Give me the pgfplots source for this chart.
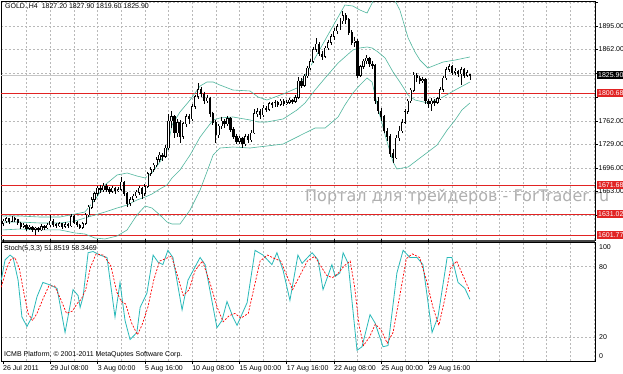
\documentclass[border=0pt]{standalone}
\usepackage{pgfplots}
\pgfplotsset{compat=1.18}
\usepackage{pgfplotstable}
\usepackage{fontspec}
\setmainfont{Liberation Sans}
\newfontfamily\wmfont{DejaVu Sans}
\definecolor{band}{RGB}{80,182,158}
\definecolor{stm}{RGB}{40,185,185}
\definecolor{lvl}{RGB}{225,35,35}
\definecolor{gridc}{RGB}{185,185,185}
\newcommand{\sm}{\fontsize{7}{8.4}\selectfont}

\pgfplotstableread{
i o h l c
0 1618 1624 1615 1622
1 1622 1627 1619 1625
2 1625 1626 1618 1621
3 1621 1629 1620 1626
4 1626 1628 1621 1624
5 1624 1625 1616 1619
6 1619 1621 1611 1614
7 1614 1619 1612 1616
8 1616 1617 1608 1611
9 1611 1616 1609 1613
10 1613 1615 1606 1610
11 1610 1614 1602 1612
12 1612 1613 1606 1609
13 1609 1617 1607 1614
14 1614 1616 1609 1612
15 1612 1619 1610 1616
16 1616 1630 1614 1622
17 1622 1624 1614 1617
18 1617 1619 1612 1615
19 1615 1620 1613 1618
20 1618 1619 1611 1614
21 1614 1620 1612 1617
22 1617 1619 1612 1615
23 1615 1632 1614 1628
24 1628 1630 1617 1620
25 1620 1622 1613 1616
26 1616 1618 1610 1613
27 1613 1621 1611 1618
28 1618 1633 1616 1630
29 1630 1644 1628 1641
30 1641 1655 1639 1652
31 1652 1663 1649 1660
32 1660 1671 1657 1668
33 1668 1672 1661 1665
34 1665 1675 1663 1671
35 1671 1673 1662 1666
36 1666 1669 1659 1663
37 1663 1671 1661 1668
38 1668 1670 1660 1664
39 1664 1669 1662 1666
40 1666 1684 1664 1676
41 1676 1678 1657 1660
42 1660 1662 1641 1646
43 1646 1655 1643 1652
44 1652 1660 1648 1657
45 1657 1665 1654 1662
46 1662 1671 1658 1668
47 1668 1670 1652 1660
48 1660 1673 1657 1670
49 1670 1691 1668 1688
50 1688 1697 1685 1694
51 1694 1703 1691 1700
52 1700 1711 1697 1708
53 1708 1718 1705 1714
54 1714 1717 1706 1712
55 1712 1728 1710 1724
56 1724 1772 1721 1762
57 1762 1776 1752 1768
58 1768 1770 1738 1745
59 1745 1765 1740 1760
60 1760 1763 1731 1740
61 1740 1761 1736 1758
62 1758 1772 1754 1768
63 1768 1771 1758 1765
64 1765 1786 1762 1782
65 1782 1799 1779 1796
66 1796 1815 1793 1806
67 1806 1810 1795 1800
68 1800 1803 1785 1790
69 1790 1799 1787 1794
70 1794 1796 1768 1772
71 1772 1775 1756 1760
72 1760 1763 1731 1742
73 1742 1758 1738 1755
74 1755 1768 1751 1762
75 1762 1765 1752 1758
76 1758 1769 1755 1765
77 1765 1767 1746 1750
78 1750 1753 1736 1740
79 1740 1744 1729 1733
80 1733 1741 1730 1738
81 1738 1740 1724 1730
82 1730 1744 1727 1740
83 1740 1743 1731 1735
84 1735 1749 1732 1745
85 1745 1778 1743 1772
86 1772 1780 1768 1775
87 1775 1778 1765 1770
88 1770 1784 1767 1780
89 1780 1783 1774 1778
90 1778 1789 1776 1786
91 1786 1788 1780 1784
92 1784 1791 1782 1788
93 1788 1790 1781 1785
94 1785 1793 1783 1790
95 1790 1792 1783 1786
96 1786 1791 1784 1788
97 1788 1794 1786 1791
98 1791 1793 1785 1789
99 1789 1798 1787 1795
100 1795 1823 1793 1818
101 1818 1822 1808 1812
102 1812 1828 1810 1825
103 1825 1839 1822 1836
104 1836 1849 1833 1845
105 1845 1866 1843 1862
106 1862 1878 1858 1870
107 1870 1872 1853 1856
108 1856 1860 1848 1852
109 1852 1867 1850 1864
110 1864 1876 1861 1872
111 1872 1884 1868 1880
112 1880 1892 1876 1888
113 1888 1898 1884 1894
114 1894 1906 1890 1902
115 1902 1916 1898 1910
116 1910 1913 1898 1904
117 1904 1906 1883 1886
118 1886 1889 1868 1872
119 1872 1880 1866 1874
120 1874 1877 1822 1826
121 1826 1841 1823 1838
122 1838 1849 1835 1846
123 1846 1854 1842 1850
124 1850 1852 1838 1842
125 1842 1846 1835 1840
126 1840 1842 1786 1790
127 1790 1795 1772 1776
128 1776 1780 1762 1768
129 1768 1770 1745 1748
130 1748 1752 1734 1740
131 1740 1743 1712 1716
132 1716 1722 1703 1710
133 1710 1742 1708 1738
134 1738 1755 1734 1748
135 1748 1764 1745 1760
136 1760 1779 1757 1775
137 1775 1793 1771 1790
138 1790 1808 1787 1805
139 1805 1830 1803 1826
140 1826 1829 1817 1822
141 1822 1825 1814 1818
142 1818 1824 1815 1820
143 1820 1822 1785 1790
144 1790 1792 1780 1786
145 1786 1794 1776 1790
146 1790 1793 1783 1788
147 1788 1796 1785 1793
148 1793 1809 1791 1806
149 1806 1825 1803 1822
150 1822 1838 1820 1834
151 1834 1842 1830 1838
152 1838 1840 1826 1830
153 1830 1836 1827 1832
154 1832 1834 1823 1828
155 1828 1838 1813 1834
156 1834 1836 1822 1826
157 1826 1833 1823 1830
158 1827.2 1827.9 1819.6 1825.9
}\candles

\begin{document}
\begin{tikzpicture}[x=1pt,y=1pt]
\useasboundingbox (0,0) rectangle (623,373);
\begin{scope}
\clip (0,0) rectangle (623,373);
\fill[white] (0,0) rectangle (623,373);
\node[anchor=west, text=gray!62, font=\wmfont\fontsize{16}{18}\selectfont, inner sep=0pt] at (305,176) {Портал для трейдеров - ForTrader.ru};

% ---------------- price panel ----------------
\begin{axis}[
  at={(1pt,133pt)}, anchor=south west, scale only axis,
  width=594pt, height=239pt,
  xmin=-0.68, xmax=200.34, ymin=1595.08, ymax=1930.04,
  axis line style={black, line width=0.6pt},
  xtick={8,16,...,200}, xticklabels={}, xtick style={draw=none},
  ytick={1630,1663,1696,1729,1762,1795.5,1829,1862,1895,1928},
  yticklabels={,1663.00,1696.00,1729.00,1762.00,,,1862.00,1895.00,},
  ytick pos=right, yticklabel pos=right, tick align=outside,
  major tick length=3pt,
  ytick style={black, line width=0.5pt},
  yticklabel style={font=\sm, anchor=west, inner sep=0pt, xshift=0.5pt},
  grid=major,
  major grid style={gridc, dash pattern=on 2pt off 2pt, line width=0.5pt},
]
\addplot[gray!45, line width=0.6pt, forget plot] coordinates {(-0.68,1825.9) (200.34,1825.9)};
\addplot[lvl, line width=0.8pt, forget plot] coordinates {(-0.68,1800.68) (200.34,1800.68)};
\addplot[lvl, line width=0.8pt, forget plot] coordinates {(-0.68,1671.68) (200.34,1671.68)};
\addplot[lvl, line width=0.8pt, forget plot] coordinates {(-0.68,1631.02) (200.34,1631.02)};
\addplot[lvl, line width=0.8pt, forget plot] coordinates {(-0.68,1601.77) (200.34,1601.77)};

% Bollinger bands: upper, middle, lower
\addplot[band, line width=0.6pt, forget plot] coordinates {
(0,1628.7) (5.75,1628.7) (12.5,1627.3) (19.3,1627.3) (24.4,1631.5) (27.7,1634.3)
(31.1,1651.1) (34.5,1672.2) (38.6,1686.2) (42.0,1689.0) (45.3,1684.8) (48.1,1682.0)
(50.4,1689.0) (53.1,1704.4) (55.5,1721.2) (57.2,1756.3) (59.9,1774.5) (63.3,1791.3)
(66.7,1810.9) (69.0,1816.5) (71.1,1816.5) (73.4,1812.3) (77.8,1805.3) (83.6,1803.9)
(86.3,1795.5) (89.3,1791.3) (94.8,1799.7) (99.5,1808.1) (102.2,1824.9) (105.6,1850.2)
(109.0,1875.4) (113.4,1907.6) (115.7,1924.4) (118.4,1923.0) (120.8,1917.4) (123.2,1913.2)
(124.9,1927.2) (126.9,1945.5) (129.3,1952.5) (132.0,1935.6) (134.3,1917.4) (137.1,1878.2)
(139.4,1858.6) (141.1,1847.3) (143.8,1836.1) (148.9,1844.5) (153.0,1847.3) (158.0,1851.6)};
\addplot[band, line width=0.6pt, forget plot] coordinates {
(0,1620.3) (5.75,1620.3) (12.5,1618.9) (19.3,1618.9) (24.4,1621.7) (27.7,1625.9)
(31.1,1630.1) (34.5,1634.3) (38.6,1639.9) (42.0,1644.1) (45.3,1651.1) (48.1,1655.3)
(50.4,1659.5) (53.1,1666.6) (55.5,1672.2) (57.2,1682.0) (59.9,1693.2) (63.3,1714.2)
(66.7,1739.4) (69.0,1752.0) (71.1,1763.3) (73.4,1766.1) (77.8,1767.5) (83.6,1763.3)
(86.3,1760.5) (89.3,1760.5) (94.8,1764.7) (99.5,1777.3) (102.2,1787.1) (105.6,1805.3)
(109.0,1822.1) (113.4,1843.1) (115.7,1851.6) (118.4,1861.4) (120.8,1864.2) (123.2,1865.6)
(124.9,1864.2) (126.9,1858.6) (129.3,1850.2) (132.0,1830.5) (134.3,1816.5) (137.1,1798.3)
(139.4,1791.3) (143.8,1787.1) (148.9,1795.5) (153.0,1805.3) (158.0,1816.5)};
\addplot[band, line width=0.6pt, forget plot] coordinates {
(0,1609.2) (5.75,1610.5) (12.5,1609.2) (19.3,1609.2) (24.4,1604.9) (27.7,1603.5)
(31.1,1597.9) (34.5,1596.5) (38.6,1600.7) (42.0,1609.2) (45.3,1630.1) (48.1,1642.7)
(50.4,1639.9) (53.1,1630.1) (55.5,1620.3) (57.2,1617.5) (59.9,1617.5) (63.3,1637.1)
(66.7,1665.2) (69.0,1690.4) (71.1,1714.2) (73.4,1724.0) (77.8,1725.4) (83.6,1724.0)
(86.3,1725.4) (89.3,1726.8) (94.8,1729.6) (99.5,1739.4) (102.2,1745.0) (105.6,1752.0)
(109.0,1752.0) (113.4,1767.5) (115.7,1784.3) (118.4,1801.1) (120.8,1812.3) (123.2,1822.1)
(124.9,1816.5) (126.9,1780.0) (129.3,1742.2) (132.0,1704.4) (133.3,1694.6) (137.1,1697.4)
(141.1,1710.0) (143.8,1718.4) (146.9,1728.2) (150.3,1749.2) (153.0,1763.3) (155.3,1777.3)
(158.0,1787.1)};

% candles: wicks
\addplot[draw=none, mark=none, forget plot,
  error bars/.cd, y dir=minus, y explicit, error mark=none,
  error bar style={draw=black, line width=0.7pt, solid}]
  table[x=i, y=h, y error minus expr={\thisrow{h}-\thisrow{l}}] {\candles};
% bearish bodies
\addplot[draw=none, mark=none, forget plot,
  restrict expr to domain={\thisrow{c}-\thisrow{o}}{-10000:-0.0001},
  error bars/.cd, y dir=minus, y explicit, error mark=none,
  error bar style={draw=black, line width=2.3pt, solid}]
  table[x=i, y expr={max(\thisrow{o},\thisrow{c})+0.4},
        y error minus expr={abs(\thisrow{o}-\thisrow{c})+0.8}] {\candles};
% bullish bodies (hollow)
\addplot[draw=none, mark=none, forget plot,
  restrict expr to domain={\thisrow{c}-\thisrow{o}}{0:10000},
  error bars/.cd, y dir=minus, y explicit, error mark=none,
  error bar style={draw=black, line width=2.3pt, solid}]
  table[x=i, y expr={max(\thisrow{o},\thisrow{c})+0.4},
        y error minus expr={abs(\thisrow{o}-\thisrow{c})+0.8}] {\candles};
\addplot[draw=none, mark=none, forget plot,
  restrict expr to domain={\thisrow{c}-\thisrow{o}}{2:10000},
  error bars/.cd, y dir=minus, y explicit, error mark=none,
  error bar style={draw=white, line width=0.8pt, solid}]
  table[x=i, y expr={max(\thisrow{o},\thisrow{c})-0.3},
        y error minus expr={abs(\thisrow{o}-\thisrow{c})-0.6}] {\candles};

\coordinate (cur) at (axis cs:200.34,1825.9);
\coordinate (l1) at (axis cs:200.34,1800.68);
\coordinate (l2) at (axis cs:200.34,1671.68);
\coordinate (l3) at (axis cs:200.34,1631.02);
\coordinate (l4) at (axis cs:200.34,1601.77);
\end{axis}

% separator
\fill[gray!55!black] (1,131) rectangle (595,133.3);

% ---------------- stochastic panel ----------------
\begin{axis}[
  at={(1pt,12pt)}, anchor=south west, scale only axis,
  width=594pt, height=119pt,
  xmin=-0.68, xmax=200.34, ymin=0, ymax=100,
  axis line style={black, line width=0.6pt},
  xtick={8,16,...,200}, xticklabels={}, xtick style={draw=none},
  ytick={20,80}, yticklabels={}, ytick style={draw=none},
  grid=major,
  major grid style={gridc, dash pattern=on 2pt off 2pt, line width=0.5pt},
  extra x ticks={0,16,...,144},
  extra x tick labels={26 Jul 2011,29 Jul 08:00,3 Aug 00:00,5 Aug 16:00,10 Aug 08:00,15 Aug 00:00,17 Aug 16:00,22 Aug 08:00,25 Aug 00:00,29 Aug 16:00},
  extra x tick style={grid=none, tick align=outside, major tick length=3pt,
     xtick style={draw=black, line width=0.5pt},
     xticklabel style={font=\sm, anchor=north west, inner sep=0pt, yshift=-1.5pt, xshift=0pt}},
]
\addplot[stm, line width=0.8pt, forget plot] coordinates {
(-0.6,68) (0.7,85) (2.4,89) (3.4,87) (5.1,68) (6.4,37) (8.1,29) (9.8,37) (11.5,54)
(13.5,66) (15.9,64) (18.3,61) (21.0,24) (23.7,60) (25.4,55) (26.1,45) (27.1,54)
(28.8,91) (30.5,92) (32.8,89) (35.2,87) (37.9,37) (39.6,66) (41.3,34) (43.0,18)
(45.3,24) (46.4,45) (48.7,57) (50.8,89) (52.5,83) (54.1,81) (55.8,93) (57.5,87)
(60.6,43) (62.6,68) (66.7,87) (68.4,81) (72.4,28) (74.1,34) (75.8,50) (77.8,37)
(79.2,30) (82.6,49) (85.3,93) (88.0,89) (91.0,81) (92.7,91) (94.8,76) (97.1,51)
(99.8,89) (101.2,82) (104.6,91) (106.6,85) (108.3,60) (111.3,81) (112.4,71) (114.0,74)
(115.1,91) (116.8,82) (119.8,9) (121.5,12) (124.2,39) (125.9,32) (128.6,12) (130.3,13)
(133.3,74) (135.4,93) (137.7,87) (140.1,87) (142.1,81) (145.2,24) (147.2,37) (150.3,87)
(151.9,87) (154.0,66) (156.3,61) (158.0,51.85)};
\addplot[red, line width=0.7pt, dash pattern=on 2pt off 1.5pt, forget plot] coordinates {
(-0.6,62) (1,76) (2.5,85) (4,87) (5.5,78) (7,58) (8.5,40) (10,34) (11.5,40) (13.5,52)
(15.5,63) (17.5,63) (19.5,52) (21.5,40) (23.5,42) (25,48) (26.5,52) (28,60) (29.5,78)
(31.5,90) (34,89) (36.5,80) (38.5,58) (40,50) (41.5,48) (43.5,32) (45.5,22) (47,30)
(49,45) (51,68) (53,84) (55,86) (57,88) (59,72) (61,55) (63,60) (65,76) (67.5,84)
(70,66) (72.5,45) (74.5,33) (76.5,38) (78.5,40) (80.5,36) (83,40) (85,62) (87,84)
(89.5,89) (92,86) (94,84) (96,72) (98,60) (100.5,72) (103,84) (105.5,88) (107.5,80)
(109.5,72) (111.5,70) (113.5,74) (115.5,80) (117.5,84) (119,62) (120.5,30) (122,13)
(124,20) (126,31) (128,26) (130,15) (132,24) (134.5,58) (136.5,86) (138.5,90) (141,87)
(143.5,66) (145.5,45) (147.5,30) (149.5,52) (151.5,78) (153.5,84) (156,70) (158,58.35)};
\end{axis}

% ---------------- texts ----------------
\node[anchor=west, inner sep=0pt, font=\sm] at (5,366) {GOLD.,H4\ \ 1827.20 1827.90 1819.60 1825.90};
\node[anchor=west, inner sep=0pt, font=\sm] at (4,124) {Stoch(5,3,3) 51.8519 58.3469};
\node[anchor=west, inner sep=0pt, font=\sm] at (4,18) {ICMB Platform, © 2001-2011 MetaQuotes Software Corp.};

\node[anchor=west, inner xsep=1.5pt, inner ysep=1.6pt, fill=black, text=white, font=\sm] at ([xshift=1.5pt]cur) {1825.90};
\node[anchor=west, inner xsep=1.5pt, inner ysep=1.6pt, fill=lvl, text=white, font=\sm] at ([xshift=1.5pt]l1) {1800.68};
\node[anchor=west, inner xsep=1.5pt, inner ysep=1.6pt, fill=lvl, text=white, font=\sm] at ([xshift=1.5pt]l2) {1671.68};
\node[anchor=west, inner xsep=1.5pt, inner ysep=1.6pt, fill=lvl, text=white, font=\sm] at ([xshift=1.5pt]l3) {1631.02};
\node[anchor=west, inner xsep=1.5pt, inner ysep=1.6pt, fill=lvl, text=white, font=\sm] at ([xshift=1.5pt]l4) {1601.77};

\node[anchor=west, inner sep=0pt, font=\sm] at (599,126) {100};
\node[anchor=west, inner sep=0pt, font=\sm] at (599,106) {80};
\node[anchor=west, inner sep=0pt, font=\sm] at (599,36) {20};
\node[anchor=west, inner sep=0pt, font=\sm] at (599,17) {0};
\end{scope}
\end{tikzpicture}
\end{document}
